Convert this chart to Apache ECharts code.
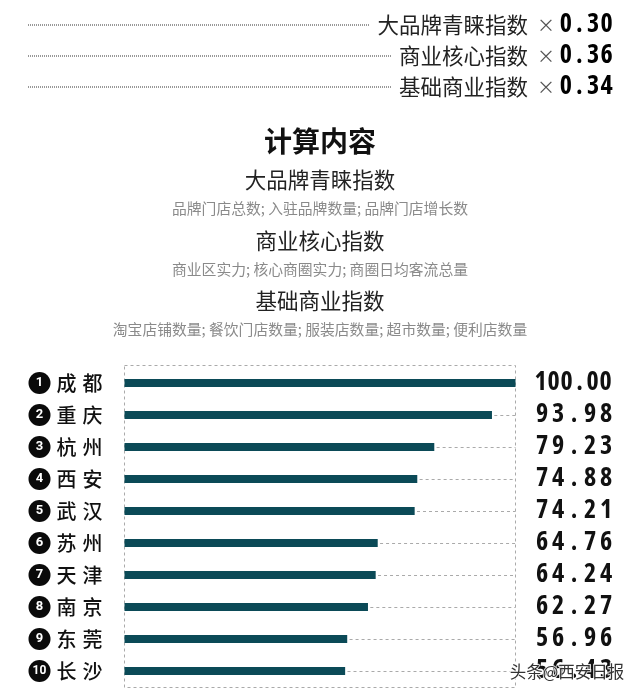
<!DOCTYPE html>
<html>
<head>
<meta charset="utf-8">
<style>
  html, body { margin: 0; padding: 0; background: #fff; }
  #chart { width: 640px; height: 695px; }
</style>
<script src="https://cdn.jsdelivr.net/npm/echarts@6/dist/echarts.min.js"></script>
</head>
<body>
<div id="chart"></div>
<script>
const cities = ['成都', '重庆', '杭州', '西安', '武汉', '苏州', '天津', '南京', '东莞', '长沙']
const scores = [100.00, 93.98, 79.23, 74.88, 74.21, 64.76, 64.24, 62.27, 56.96, 56.43]
const weightNames = ['大品牌青睐指数', '商业核心指数', '基础商业指数']
const weightValues = ['0.30', '0.36', '0.34']
const contentDetails = [
  '品牌门店总数; 入驻品牌数量; 品牌门店增长数',
  '商业区实力; 核心商圈实力; 商圈日均客流总量',
  '淘宝店铺数量; 餐饮门店数量; 服装店数量; 超市数量; 便利店数量'
]

const CJK = '"Noto Sans CJK SC", sans-serif'
const NARROW = '"Open Sans", sans-serif'
// zrender 把 fontWeight 原样拼进 font 字符串，condensed 借这里传进去
const NARROW_WEIGHT = 'bold condensed'

// 数字字距拉开，逐字放进定宽的 rich 片段
function spaced(str, key) {
  return str.split('').map(c => `{${key}|${c}}`).join('')
}

function digitStyle(width, fontSize) {
  return { width: width, align: 'center', fontFamily: NARROW, fontWeight: NARROW_WEIGHT, fontSize: fontSize, color: '#111' }
}

function text(x, y, str, fontSize, color, align, fontWeight) {
  return {
    type: 'text',
    x: x,
    y: y,
    style: {
      text: str,
      fontFamily: CJK,
      fontSize: fontSize,
      fontWeight: fontWeight || 'normal',
      fill: color,
      align: align,
      verticalAlign: 'middle'
    }
  }
}

function dots(x2, y) {
  return {
    type: 'line',
    shape: { x1: 28, y1: y, x2: x2, y2: y },
    style: { stroke: '#333', lineWidth: 1, lineDash: [1, 1] }
  }
}

const rowY = [25, 56, 87]
const dotEnd = [370, 392, 392]
const contentY = [180, 241, 301]
const detailY = [208, 269, 329]

const graphic = [
  text(320, 141, '计算内容', 28, '#111', 'center', 'bold'),
  // 图表外框
  {
    type: 'rect',
    shape: { x: 124.5, y: 365.5, width: 391, height: 322 },
    style: { fill: 'none', stroke: '#aaa', lineWidth: 1, lineDash: [3, 3] },
    z: 1
  }
]

weightNames.forEach((name, i) => {
  graphic.push(dots(dotEnd[i], rowY[i]))
  graphic.push(text(528, rowY[i], name, 21.5, '#222', 'right'))
  graphic.push(text(546, rowY[i], '×', 18, '#555', 'center'))
  graphic.push({
    type: 'text',
    x: 559,
    y: rowY[i],
    style: {
      text: spaced(weightValues[i], 'w'),
      rich: { w: digitStyle(13.6, 26) },
      verticalAlign: 'middle'
    }
  })
  graphic.push(text(320, contentY[i], name, 21.5, '#222', 'center'))
  graphic.push(text(320, detailY[i], contentDetails[i], 14.8, '#8a8a8a', 'center'))
})

// 水印
graphic.push({
  type: 'text',
  x: 567,
  y: 672,
  z: 100,
  style: {
    text: '头条@西安日报',
    fontFamily: CJK,
    fontSize: 16.5,
    fill: '#333',
    stroke: 'rgba(255,255,255,0.85)',
    lineWidth: 2,
    align: 'center',
    verticalAlign: 'middle'
  }
})

const chart = echarts.init(document.getElementById('chart'), null, { renderer: 'canvas' })

chart.setOption({
  animation: false,
  backgroundColor: '#fff',
  grid: { left: 124.5, right: 124.5, top: 367, bottom: 8 },
  xAxis: {
    type: 'value',
    min: 0,
    max: 100,
    show: false
  },
  yAxis: [
    {
      type: 'category',
      inverse: true,
      data: cities,
      axisLine: { show: false },
      axisTick: { show: false },
      axisLabel: {
        align: 'left',
        margin: 96,
        formatter: (value, index) => {
          const chars = value.split('')
          return `{badge${index === 9 ? 'Small' : ''}|${index + 1}}{pad|}{city|${chars[0]}}{gap|}{city|${chars[1]}}`
        },
        rich: {
          badge: { width: 22, height: 22, lineHeight: 22, borderRadius: 11, backgroundColor: '#0a0a0a', color: '#fff', align: 'center', fontFamily: '"Roboto", sans-serif', fontWeight: 'bold', fontSize: 13 },
          badgeSmall: { width: 22, height: 22, lineHeight: 22, borderRadius: 11, backgroundColor: '#0a0a0a', color: '#fff', align: 'center', fontFamily: '"Roboto", sans-serif', fontWeight: 'bold', fontSize: 12 },
          pad: { width: 6 },
          gap: { width: 6 },
          city: { fontFamily: CJK, fontSize: 20, fontWeight: 500, color: '#111' }
        }
      }
    },
    {
      type: 'category',
      inverse: true,
      position: 'right',
      data: scores.map(v => v.toFixed(2)),
      axisLine: { show: false },
      axisTick: { show: false },
      axisLabel: {
        align: 'left',
        margin: 18.5,
        formatter: value => spaced(value, value.length > 5 ? 'wide' : 'narrow'),
        rich: {
          wide: digitStyle(13, 26),
          narrow: digitStyle(16, 26)
        }
      }
    }
  ],
  series: [{
    type: 'bar',
    data: scores,
    barWidth: 8,
    itemStyle: { color: '#0b4a57' },
    z: 3,
    markLine: {
      silent: true,
      symbol: 'none',
      label: { show: false },
      lineStyle: { color: '#aaa', type: [3, 3], width: 1 },
      data: scores
        .map((v, i) => [
          { xAxis: v + 0.6, yAxis: cities[i] },
          { xAxis: 100, yAxis: cities[i] }
        ])
        .filter(d => d[0].xAxis < 100)
    }
  }],
  graphic: graphic
})
</script>
</body>
</html>
